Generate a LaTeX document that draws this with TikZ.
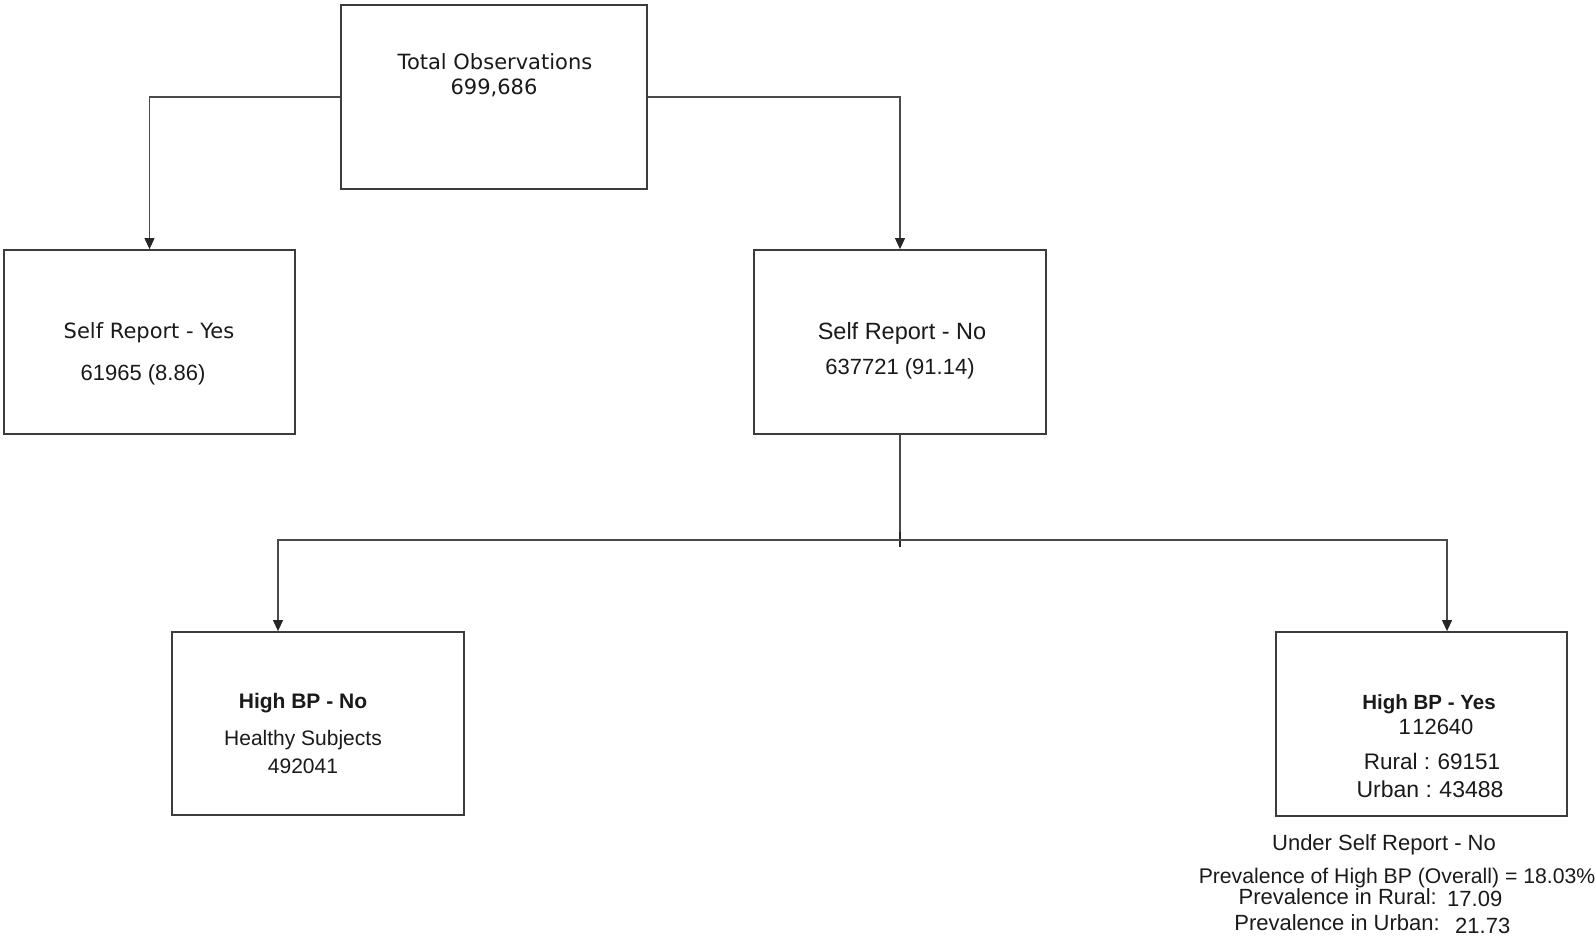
\documentclass[tikz,border=0pt]{standalone}
\usepackage{fontspec}
\setmainfont{Liberation Sans}
\newfontfamily\dejavu{DejaVu Sans}
\usetikzlibrary{arrows.meta}
\definecolor{boxline}{HTML}{3C3C3C}
\definecolor{conline}{HTML}{4A4A4A}
\definecolor{txt}{HTML}{1A1A1A}
\tikzset{
  box/.style={draw=boxline, line width=1.8pt, fill=white, rectangle, inner sep=0pt},
  con/.style={draw=conline, line width=1.1pt},
  arr/.style={con, -{Triangle[width=10pt,length=11pt,color=black!85]}},
  lbl/.style={anchor=base, inner sep=0pt, text=txt},
  djv/.style={lbl, font=\dejavu\fontsize{21}{25}\selectfont},
  lib/.style={lbl, font=\fontsize{21.5}{25}\selectfont},
  libb/.style={lbl, font=\bfseries\fontsize{20.5}{25}\selectfont},
}
\begin{document}
\begin{tikzpicture}[x=1pt,y=-1pt]
\useasboundingbox (0,0) rectangle (1595,940);
% boxes
\node[box, minimum width=306pt, minimum height=184pt] (top) at (494,97) {};
\node[box, minimum width=291pt, minimum height=184pt] (sy) at (149.5,342) {};
\node[box, minimum width=292pt, minimum height=184pt] (sn) at (900,342) {};
\node[box, minimum width=292pt, minimum height=183pt] (hn) at (318,723.5) {};
\node[box, minimum width=291pt, minimum height=184pt] (hy) at (1421.5,724) {};
% texts
\node[djv] (t1) at (495,69) {Total Observations};
\node[djv] (t2) at (494,94) {699,686};
\node[djv] (sy1) at (149,338) {Self Report - Yes};
\node[lib, font=\fontsize{22}{25}\selectfont] (sy2) at (143,380) {61965 (8.86)};
\node[lib, font=\fontsize{23.5}{27}\selectfont] (sn1) at (902,339) {Self Report - No};
\node[lib, font=\fontsize{22}{25}\selectfont] (sn2) at (900,374) {637721 (91.14)};
\node[libb, font=\bfseries\fontsize{21}{25}\selectfont] (hn1) at (303,708) {High BP - No};
\node[lib, font=\fontsize{21}{25}\selectfont] (hn2) at (303,745) {Healthy Subjects};
\node[lib, font=\fontsize{21}{25}\selectfont] (hn3) at (303,773) {492041};
\node[libb] (hy1) at (1429,709) {High BP - Yes};
\node[lib, font=\fontsize{22}{25}\selectfont] (hy2) at (1436,734) {1\kern1.5pt 12640};
\node[lib, font=\fontsize{22.5}{25}\selectfont] (hy3) at (1432,769) {Rural :\kern-1pt{} 69151};
\node[lib, font=\fontsize{23}{25}\selectfont] (hy4) at (1430,797) {Urban :\kern-1pt{} 43488};
\node[lib, font=\fontsize{22}{25}\selectfont] (n1) at (1384,850) {Under Self Report - No};
\node[lib, font=\fontsize{21.2}{25}\selectfont] (n2) at (1397,883) {Prevalence of High BP (Overall) = 18.03\%};
\node[lib, anchor=base east, font=\fontsize{22}{25}\selectfont] (n3) at (1437,904) {Prevalence in Rural:};
\node[lib, anchor=base west, font=\fontsize{22}{25}\selectfont] (n3b) at (1447,906) {17.09};
\node[lib, anchor=base east, font=\fontsize{22}{25}\selectfont] (n4) at (1440,930) {Prevalence in Urban:};
\node[lib, anchor=base west, font=\fontsize{22}{25}\selectfont] (n4b) at (1455,933) {21.73};
% connectors
\draw[arr] (top.west) -| (sy.north);
\draw[arr] (top.east) -| (sn.north);
\coordinate (j) at (900,540);
\coordinate (jl) at (278,540);
\coordinate (jr) at (1447,540);
\draw[con] (sn.south) -- (j);
\draw[con, draw=black!85, line width=2.6pt] (900,532) -- (900,547);
\draw[arr] (j) -- (jl) -- (hn.north -| jl);
\draw[arr] (j) -- (jr) -- (hy.north -| jr);
\end{tikzpicture}
\end{document}
